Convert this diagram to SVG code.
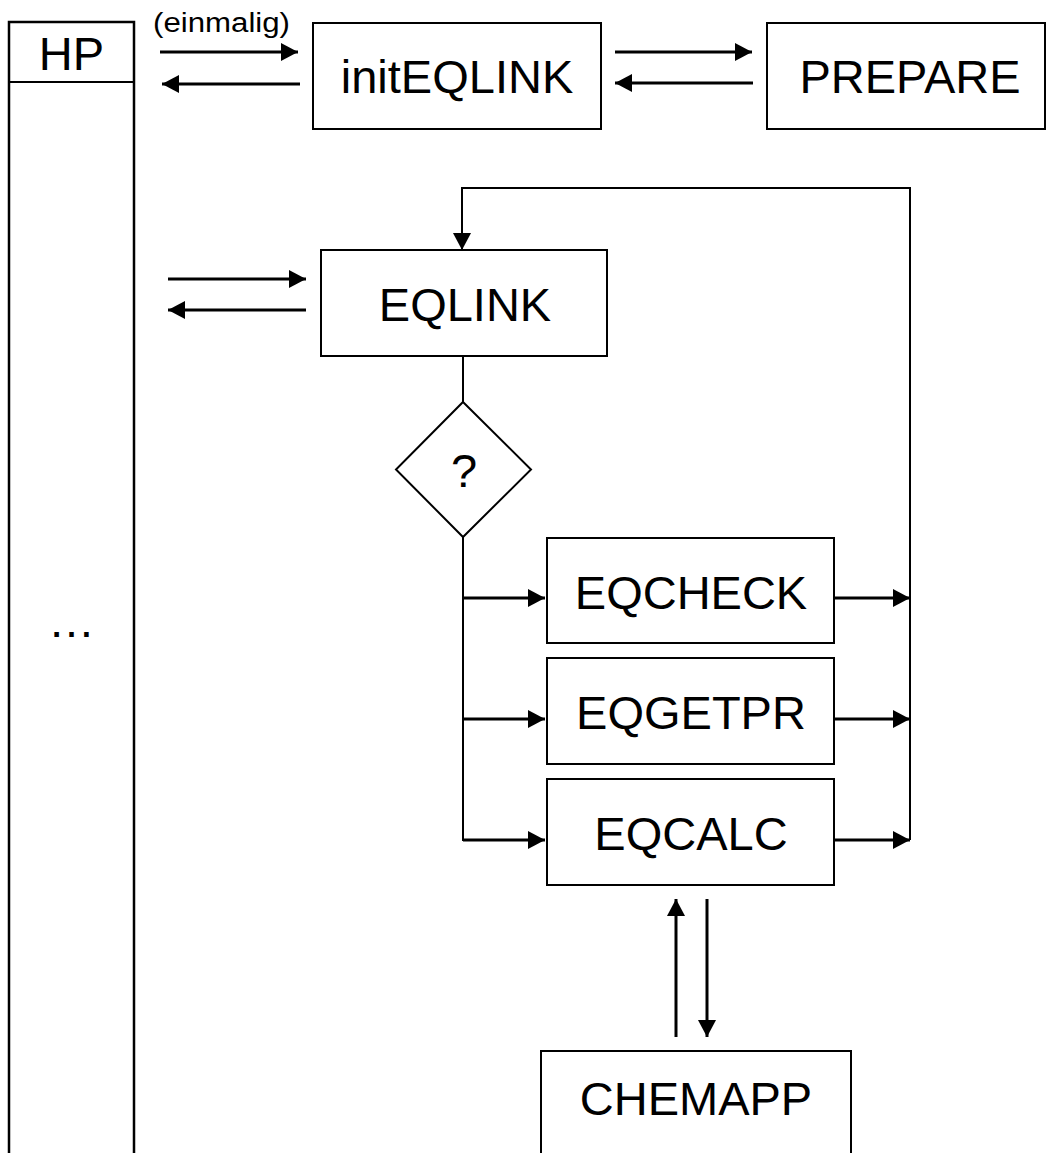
<svg xmlns="http://www.w3.org/2000/svg" width="1046" height="1153" viewBox="0 0 1046 1153">
  <style>
    .box { fill: #fff; stroke: #000; stroke-width: 2; }
    .lbl { font-family: "Liberation Sans", Arial, sans-serif; font-size: 47px; fill: #000; text-anchor: middle; }
    .small { font-family: "Liberation Sans", Arial, sans-serif; font-size: 27px; fill: #000; }
    .arr { fill: none; stroke: #000; stroke-width: 3; marker-end: url(#head); }
    .thin { fill: none; stroke: #000; stroke-width: 2; }
    .thinarr { fill: none; stroke: #000; stroke-width: 2; marker-end: url(#head); }
  </style>
  <defs>
    <marker id="head" markerUnits="userSpaceOnUse" markerWidth="18" markerHeight="18" refX="17" refY="9" orient="auto">
      <path d="M0,0 L17,9 L0,18 z" fill="#000"/>
    </marker>
  </defs>
  <rect width="1046" height="1153" fill="#fff"/>

  <!-- HP lifeline column -->
  <g id="hp">
    <path d="M9,1153 V22 H134 V1153" fill="none" stroke="#000" stroke-width="2.5"/>
    <line x1="9" y1="82" x2="134" y2="82" stroke="#000" stroke-width="2"/>
    <text class="lbl" x="71.5" y="70">HP</text>
    <text class="lbl" x="71.5" y="637">…</text>
  </g>

  <g id="initEQLINK">
    <rect class="box" x="313" y="23" width="288" height="106"/>
    <text class="lbl" x="457" y="93">initEQLINK</text>
  </g>

  <g id="prepare">
    <rect class="box" x="767" y="23" width="278" height="106"/>
    <text class="lbl" x="910" y="93">PREPARE</text>
  </g>

  <g id="eqlink">
    <rect class="box" x="321" y="250" width="286" height="106"/>
    <text class="lbl" x="465" y="321">EQLINK</text>
  </g>

  <g id="decision">
    <polygon class="box" points="463,402 531,469.5 463,537 396,469.5"/>
    <text class="lbl" x="464" y="487">?</text>
  </g>

  <g id="eqcheck">
    <rect class="box" x="547" y="538" width="287" height="105"/>
    <text class="lbl" x="691" y="609">EQCHECK</text>
  </g>

  <g id="eqgetpr">
    <rect class="box" x="547" y="658" width="287" height="106"/>
    <text class="lbl" x="691" y="729">EQGETPR</text>
  </g>

  <g id="eqcalc">
    <rect class="box" x="547" y="779" width="287" height="106"/>
    <text class="lbl" x="691" y="850">EQCALC</text>
  </g>

  <g id="chemapp">
    <rect class="box" x="541" y="1051" width="310" height="110"/>
    <text class="lbl" x="696" y="1115">CHEMAPP</text>
  </g>

  <g id="connectors">
    <!-- HP <-> initEQLINK -->
    <text class="small" x="153" y="32" textLength="137" lengthAdjust="spacingAndGlyphs">(einmalig)</text>
    <line class="arr" x1="160" y1="52" x2="298" y2="52"/>
    <line class="arr" x1="300" y1="84" x2="162" y2="84"/>

    <!-- initEQLINK <-> PREPARE -->
    <line class="arr" x1="615" y1="52" x2="752" y2="52"/>
    <line class="arr" x1="753" y1="83" x2="615" y2="83"/>

    <!-- HP <-> EQLINK -->
    <line class="arr" x1="168" y1="279" x2="306" y2="279"/>
    <line class="arr" x1="306" y1="310" x2="168" y2="310"/>

    <!-- return loop back to EQLINK -->
    <path class="thin" d="M910,840 V188 H462"/>
    <line class="thinarr" x1="462" y1="187" x2="462" y2="250"/>

    <!-- EQLINK to decision, decision to branches -->
    <line class="thin" x1="463" y1="356" x2="463" y2="402"/>
    <line class="thin" x1="463" y1="537" x2="463" y2="841"/>
    <line class="arr" x1="463" y1="598" x2="545" y2="598"/>
    <line class="arr" x1="463" y1="719" x2="545" y2="719"/>
    <line class="arr" x1="463" y1="840" x2="545" y2="840"/>

    <!-- branches back to the loop -->
    <line class="arr" x1="834" y1="598" x2="910" y2="598"/>
    <line class="arr" x1="834" y1="719" x2="910" y2="719"/>
    <line class="arr" x1="834" y1="840" x2="910" y2="840"/>

    <!-- EQCALC <-> CHEMAPP -->
    <line class="arr" x1="676" y1="1037" x2="676" y2="899"/>
    <line class="arr" x1="707" y1="899" x2="707" y2="1037"/>
  </g>
</svg>
